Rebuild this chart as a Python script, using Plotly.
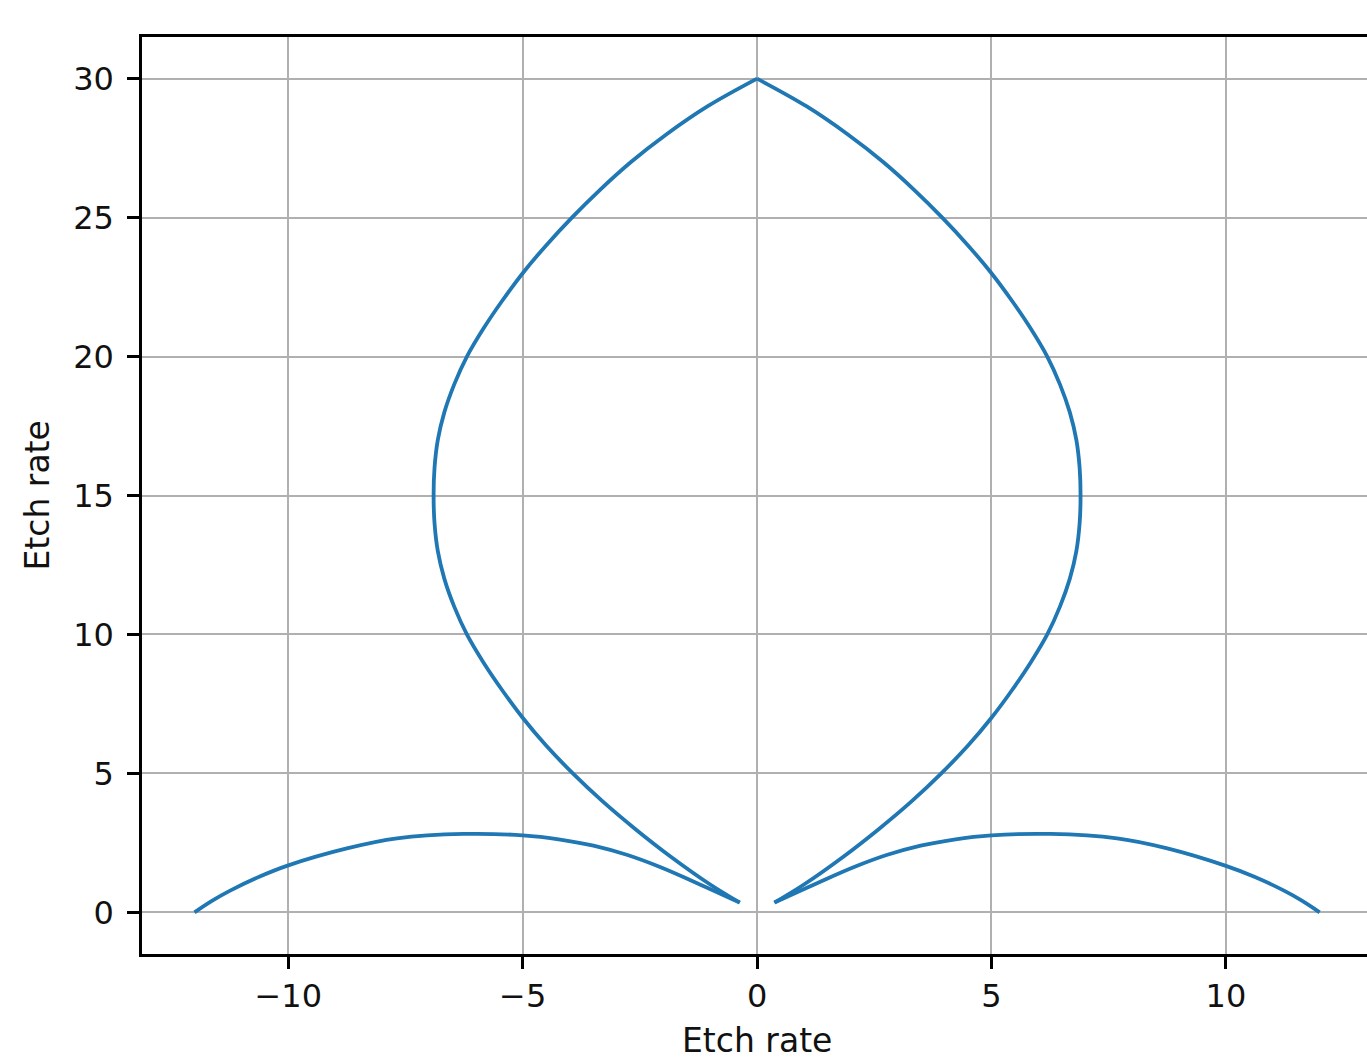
import plotly.graph_objects as go

# ---- data ----
left_lobe_x = [-12.0, -11.62, -11.24, -10.62, -10.0, -8.75, -7.68, -6.26, -5.0, -4.2, -3.49, -2.78, -2.07, -1.36, -0.37]
left_lobe_y = [0.0, 0.42, 0.78, 1.28, 1.69, 2.30, 2.66, 2.82, 2.77, 2.62, 2.40, 2.07, 1.63, 1.11, 0.35]

left_arc_x = [-0.37, -1.00, -1.84, -2.60, -3.30, -3.93, -4.50, -5.0, -5.44, -5.84, -6.19, -6.46, -6.67, -6.81, -6.88,
              -6.90,
              -6.88, -6.81, -6.67, -6.46, -6.19, -5.84, -5.44, -5.0, -4.50, -3.95, -3.35, -2.69, -1.93, -1.06, 0.0]
left_arc_y = [0.35, 1.0, 2.0, 3.0, 4.0, 5.0, 6.0, 7.0, 8.0, 9.0, 10.0, 11.0, 12.0, 13.0, 14.0,
              15.0,
              16.0, 17.0, 18.0, 19.0, 20.0, 21.0, 22.0, 23.0, 24.0, 25.0, 26.0, 27.0, 28.0, 29.0, 30.0]

right_arc_x = [0.0, 1.06, 1.93, 2.69, 3.35, 3.95, 4.50, 5.0, 5.44, 5.84, 6.19, 6.46, 6.67, 6.81, 6.88,
               6.90,
               6.88, 6.81, 6.67, 6.46, 6.19, 5.84, 5.44, 5.0, 4.50, 3.93, 3.30, 2.60, 1.84, 1.00, 0.37]
right_arc_y = [30.0, 29.0, 28.0, 27.0, 26.0, 25.0, 24.0, 23.0, 22.0, 21.0, 20.0, 19.0, 18.0, 17.0, 16.0,
               15.0,
               14.0, 13.0, 12.0, 11.0, 10.0, 9.0, 8.0, 7.0, 6.0, 5.0, 4.0, 3.0, 2.0, 1.0, 0.35]

right_lobe_x = [0.37, 1.36, 2.07, 2.78, 3.49, 4.2, 5.0, 6.26, 7.68, 8.75, 10.0, 10.62, 11.24, 11.62, 12.0]
right_lobe_y = [0.35, 1.11, 1.63, 2.07, 2.40, 2.62, 2.77, 2.82, 2.66, 2.30, 1.67, 1.27, 0.78, 0.42, 0.0]

x_tick_vals = [-10, -5, 0, 5, 10]
x_tick_text = ["\u221210", "\u22125", "0", "5", "10"]
y_tick_vals = [0, 5, 10, 15, 20, 25, 30]
y_tick_text = ["0", "5", "10", "15", "20", "25", "30"]

x_title = "Etch rate"
y_title = "Etch rate"

LINE_COLOR = "#1f77b4"
FONT = "DejaVu Sans"
TEXT_COLOR = "#111111"

fig = go.Figure()
for xs, ys in [(left_lobe_x, left_lobe_y), (left_arc_x, left_arc_y),
               (right_arc_x, right_arc_y), (right_lobe_x, right_lobe_y)]:
    fig.add_trace(go.Scatter(x=xs, y=ys, mode="lines",
                             line=dict(color=LINE_COLOR, width=3.8, shape="spline", smoothing=1.0),
                             showlegend=False, hoverinfo="x+y"))

axis_common = dict(
    showgrid=True, gridcolor="#b0b0b0", gridwidth=2,
    zeroline=False, showline=True, linecolor="black", linewidth=2.5,
    ticks="outside", ticklen=12, tickwidth=2.5, tickcolor="black",
    tickfont=dict(family=FONT, size=32, color=TEXT_COLOR),
)

fig.update_xaxes(range=[-13.12, 13.01], tickmode="array", tickvals=x_tick_vals, ticktext=x_tick_text,
                 mirror=True, **axis_common)
fig.update_yaxes(range=[-1.5, 31.5], tickmode="array", tickvals=y_tick_vals, ticktext=y_tick_text,
                 mirror=False, ticklabelstandoff=7, **axis_common)

fig.add_annotation(text=x_title, xref="x", yref="paper", x=0, y=-0.0938,
                   showarrow=False, xanchor="center", yanchor="middle",
                   font=dict(family=FONT, size=33, color=TEXT_COLOR))
fig.add_annotation(text=y_title, xref="paper", yref="y", x=-0.0857, y=15,
                   showarrow=False, xanchor="center", yanchor="middle", textangle=-90,
                   font=dict(family=FONT, size=33, color=TEXT_COLOR))

fig.update_layout(
    width=1367, height=1060,
    margin=dict(l=142, r=0, t=37, b=106, pad=0),
    paper_bgcolor="white", plot_bgcolor="white",
    font=dict(family=FONT),
)

# remove the default 8px page margin so the figure fills the window exactly
fig.write_html("out.html", config={"displayModeBar": False},
               post_script="document.body.style.margin='0';document.body.style.overflow='hidden';")
